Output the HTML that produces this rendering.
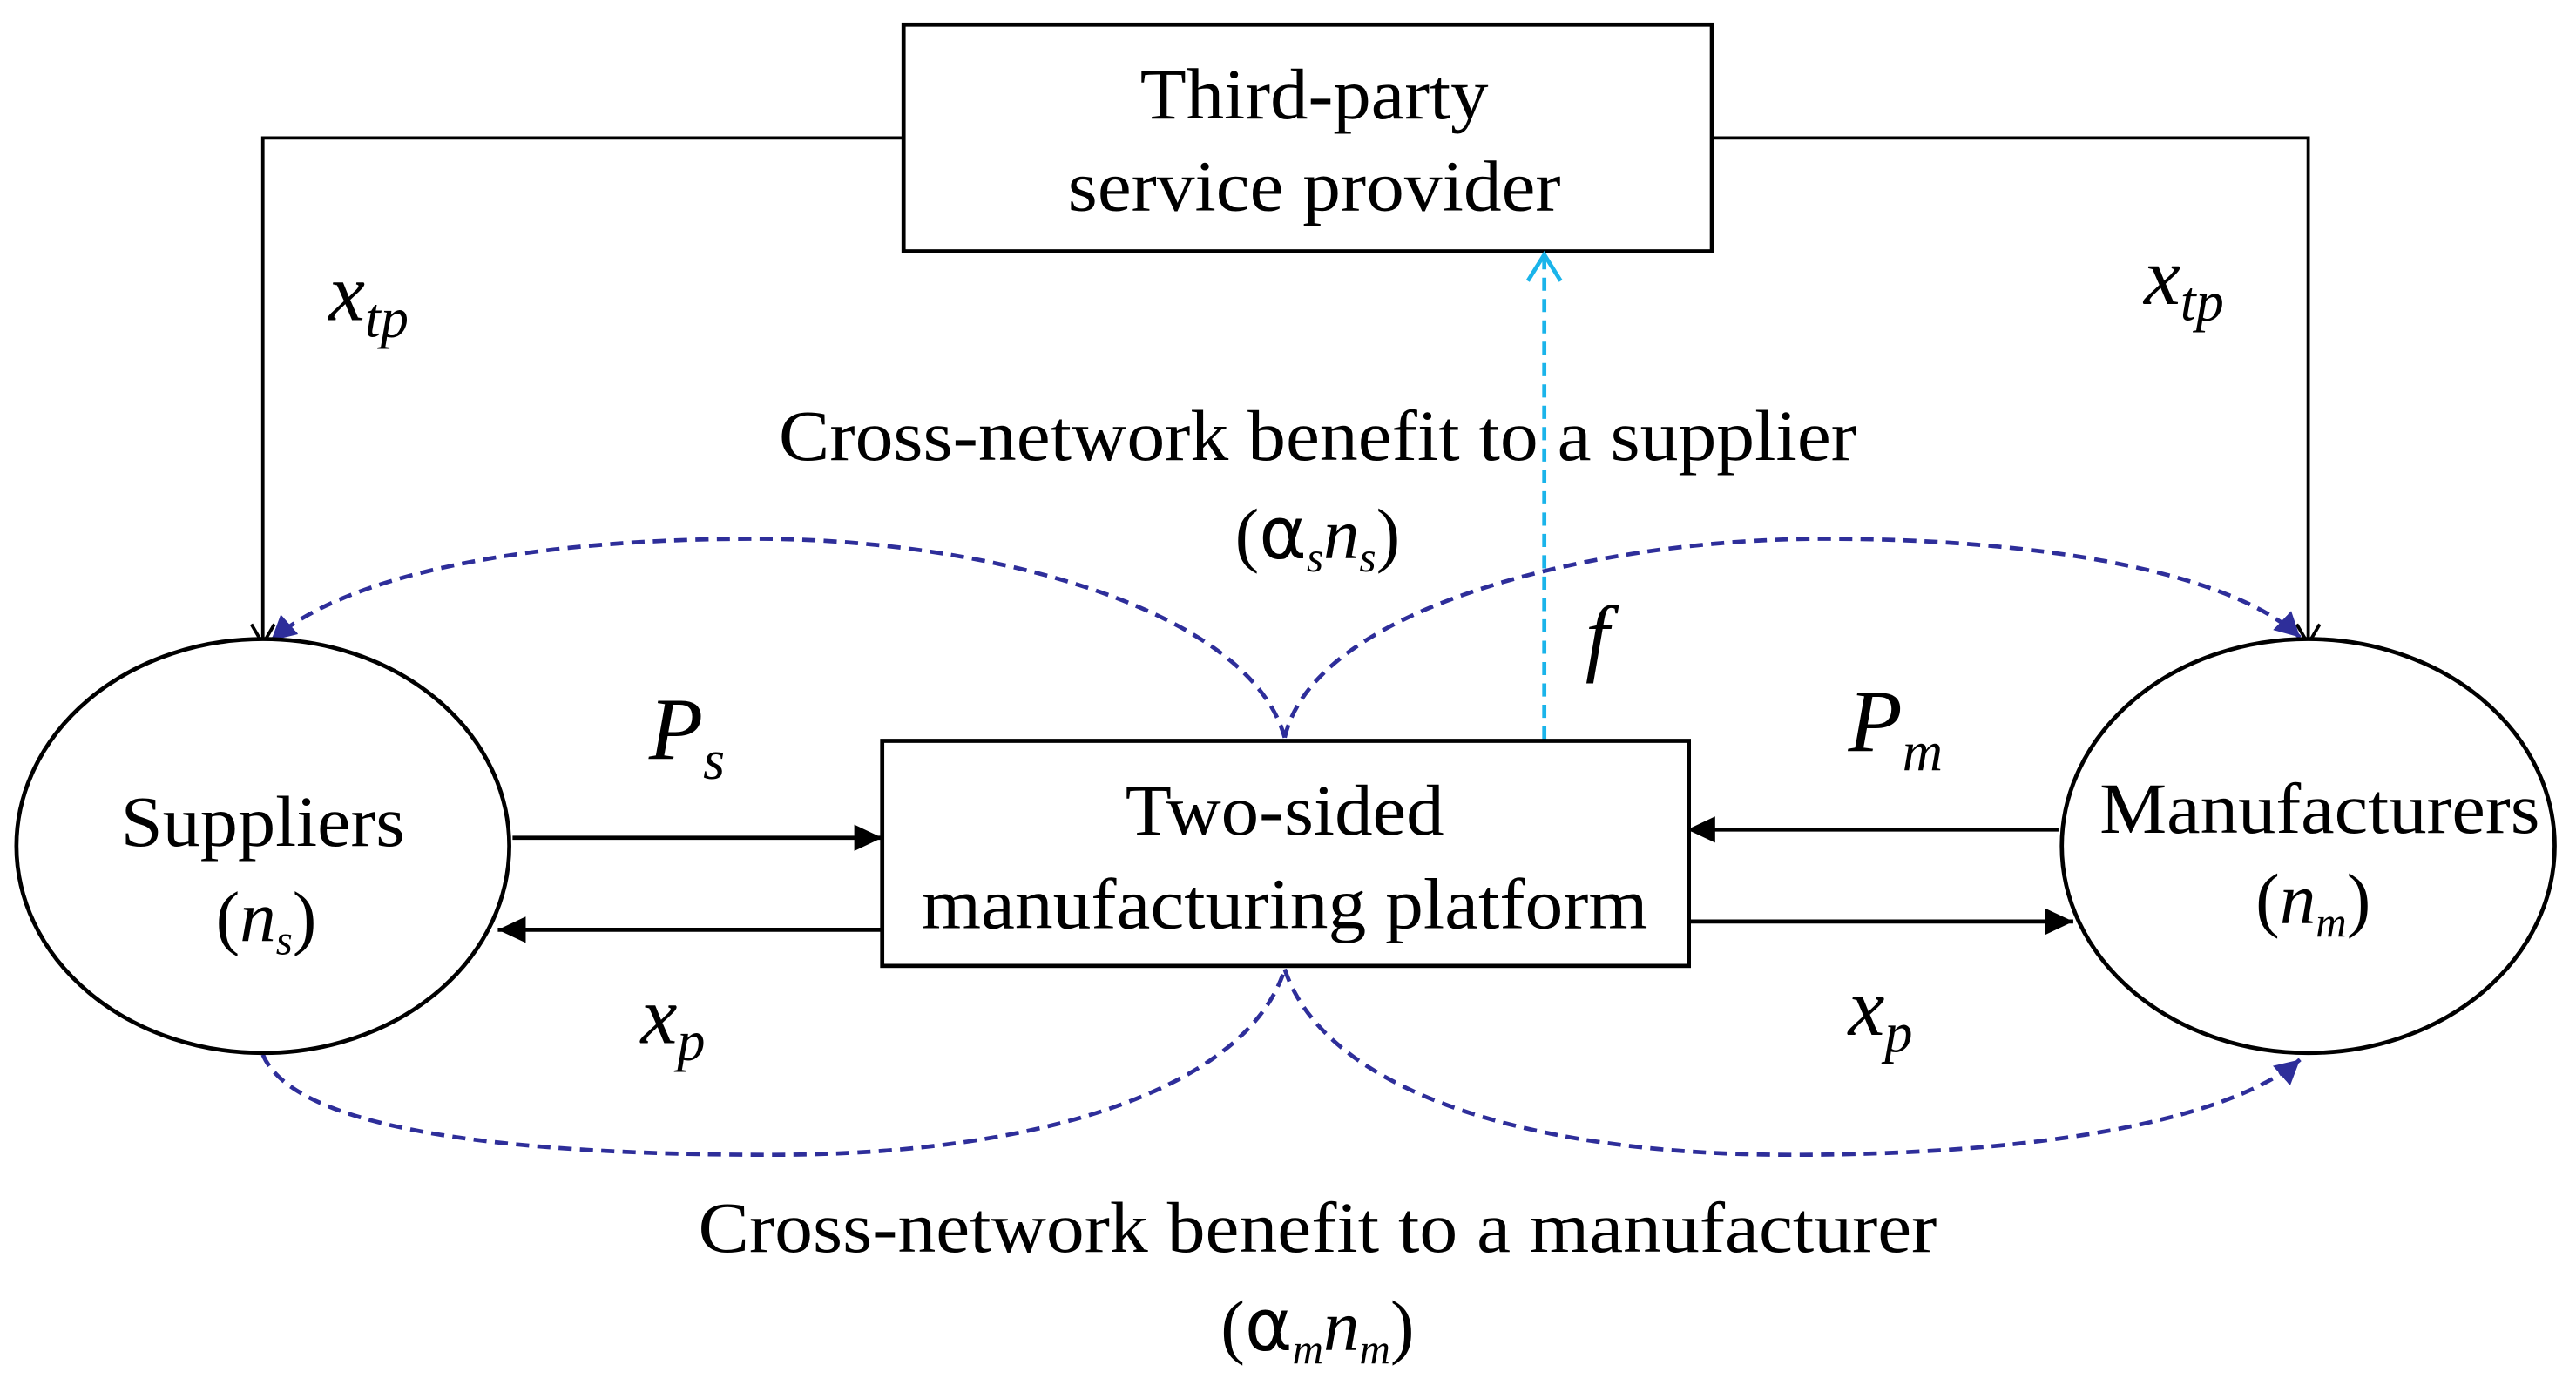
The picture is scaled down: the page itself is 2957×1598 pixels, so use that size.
<!DOCTYPE html>
<html><head><meta charset="utf-8"><style>
html,body{margin:0;padding:0;background:#fff;}
svg{display:block;}
text{font-family:"Liberation Serif",serif;fill:#000;}
.i{font-style:italic;}
.a{font-family:"DejaVu Sans",sans-serif;}
</style></head><body>
<svg width="2957" height="1598" viewBox="0 0 1568 847.4" preserveAspectRatio="none">
<defs>
<marker id="ab" markerWidth="20" markerHeight="20" refX="17" refY="8" orient="auto" markerUnits="userSpaceOnUse">
<path d="M0,0 L17,8 L0,16 Z" fill="#000"/></marker>
<marker id="ao" markerWidth="20" markerHeight="20" refX="14" refY="8" orient="auto" markerUnits="userSpaceOnUse">
<path d="M2,1 L14,8 L2,15" fill="none" stroke="#000" stroke-width="2"/></marker>
<marker id="ac" markerWidth="24" markerHeight="24" refX="18" refY="11" orient="auto" markerUnits="userSpaceOnUse">
<path d="M2,1 L18,11 L2,21" fill="none" stroke="#1ab4ea" stroke-width="2.5"/></marker>
<marker id="abl" markerWidth="20" markerHeight="20" refX="15" refY="8" orient="auto" markerUnits="userSpaceOnUse">
<path d="M0,0 L15,8 L0,16 Z" fill="#2e2e9a"/></marker>
</defs>
<rect x="550" y="15" width="492" height="138" fill="#fff" stroke="#000" stroke-width="2.5"/>
<text x="800" y="72" font-size="44" text-anchor="middle" textLength="212" lengthAdjust="spacingAndGlyphs">Third-party</text>
<text x="800" y="128" font-size="44" text-anchor="middle" textLength="300" lengthAdjust="spacingAndGlyphs">service provider</text>
<path d="M550,84 L160,84 L160,392" fill="none" stroke="#000" stroke-width="2" marker-end="url(#ao)"/>
<path d="M1042,84 L1405,84 L1405,392" fill="none" stroke="#000" stroke-width="2" marker-end="url(#ao)"/>
<text x="200" y="195" font-size="50" class="i">x<tspan font-size="34" dy="10">tp</tspan></text>
<text x="1305" y="185" font-size="50" class="i">x<tspan font-size="34" dy="10">tp</tspan></text>
<text x="802" y="280" font-size="44" text-anchor="middle" textLength="656" lengthAdjust="spacingAndGlyphs">Cross-network benefit to a supplier</text>
<text x="802" y="340" font-size="44" text-anchor="middle">(<tspan class="a">α</tspan><tspan class="i" font-size="26" dy="8">s</tspan><tspan class="i" dy="-8">n</tspan><tspan class="i" font-size="26" dy="8">s</tspan><tspan dy="-8">)</tspan></text>
<g fill="none" stroke="#2e2e9a" stroke-width="2.5" stroke-dasharray="8,5">
<path d="M782,449 C760,370 600,328 460,328 C320,328 210,350 165,390" marker-end="url(#abl)"/>
<path d="M782,449 C800,370 970,328 1110,328 C1250,328 1360,350 1400,388" marker-end="url(#abl)"/>
<path d="M160,642 C180,690 320,703 470,703 C640,703 760,660 782,590"/>
<path d="M782,590 C805,660 920,703 1090,703 C1250,703 1360,680 1400,645" marker-end="url(#abl)"/>
</g>
<line x1="940" y1="450" x2="940" y2="155" stroke="#1ab4ea" stroke-width="2.5" stroke-dasharray="8,5" marker-end="url(#ac)"/>
<text x="965" y="405" font-size="52" class="i">f</text>
<ellipse cx="160" cy="515" rx="150" ry="126" fill="#fff" stroke="#000" stroke-width="2.5"/>
<ellipse cx="1405" cy="515" rx="150" ry="126" fill="#fff" stroke="#000" stroke-width="2.5"/>
<text x="160" y="515" font-size="44" text-anchor="middle" textLength="173" lengthAdjust="spacingAndGlyphs">Suppliers</text>
<text x="162" y="573" font-size="44" text-anchor="middle">(<tspan class="i">n</tspan><tspan class="i" font-size="26" dy="8">s</tspan><tspan dy="-8">)</tspan></text>
<text x="1412" y="507" font-size="44" text-anchor="middle" textLength="268" lengthAdjust="spacingAndGlyphs">Manufacturers</text>
<text x="1408" y="562" font-size="44" text-anchor="middle">(<tspan class="i">n</tspan><tspan class="i" font-size="26" dy="8">m</tspan><tspan dy="-8">)</tspan></text>
<rect x="537" y="451" width="491" height="137" fill="#fff" stroke="#000" stroke-width="2.5"/>
<text x="782" y="508" font-size="44" text-anchor="middle" textLength="194" lengthAdjust="spacingAndGlyphs">Two-sided</text>
<text x="782" y="565" font-size="44" text-anchor="middle" textLength="442" lengthAdjust="spacingAndGlyphs">manufacturing platform</text>
<g stroke="#000" stroke-width="2.5" fill="none">
<line x1="312" y1="510" x2="537" y2="510" marker-end="url(#ab)"/>
<line x1="537" y1="566" x2="303" y2="566" marker-end="url(#ab)"/>
<line x1="1253" y1="505" x2="1027" y2="505" marker-end="url(#ab)"/>
<line x1="1028" y1="561" x2="1262" y2="561" marker-end="url(#ab)"/>
</g>
<text x="395" y="462" font-size="54" class="i">P<tspan font-size="34" dy="12">s</tspan></text>
<text x="390" y="635" font-size="50" class="i">x<tspan font-size="34" dy="10">p</tspan></text>
<text x="1125" y="457" font-size="54" class="i">P<tspan font-size="34" dy="12">m</tspan></text>
<text x="1125" y="630" font-size="50" class="i">x<tspan font-size="34" dy="10">p</tspan></text>
<text x="802" y="762" font-size="44" text-anchor="middle" textLength="754" lengthAdjust="spacingAndGlyphs">Cross-network benefit to a manufacturer</text>
<text x="802" y="822" font-size="44" text-anchor="middle">(<tspan class="a">α</tspan><tspan class="i" font-size="26" dy="8">m</tspan><tspan class="i" dy="-8">n</tspan><tspan class="i" font-size="26" dy="8">m</tspan><tspan dy="-8">)</tspan></text>
</svg>
</body></html>
